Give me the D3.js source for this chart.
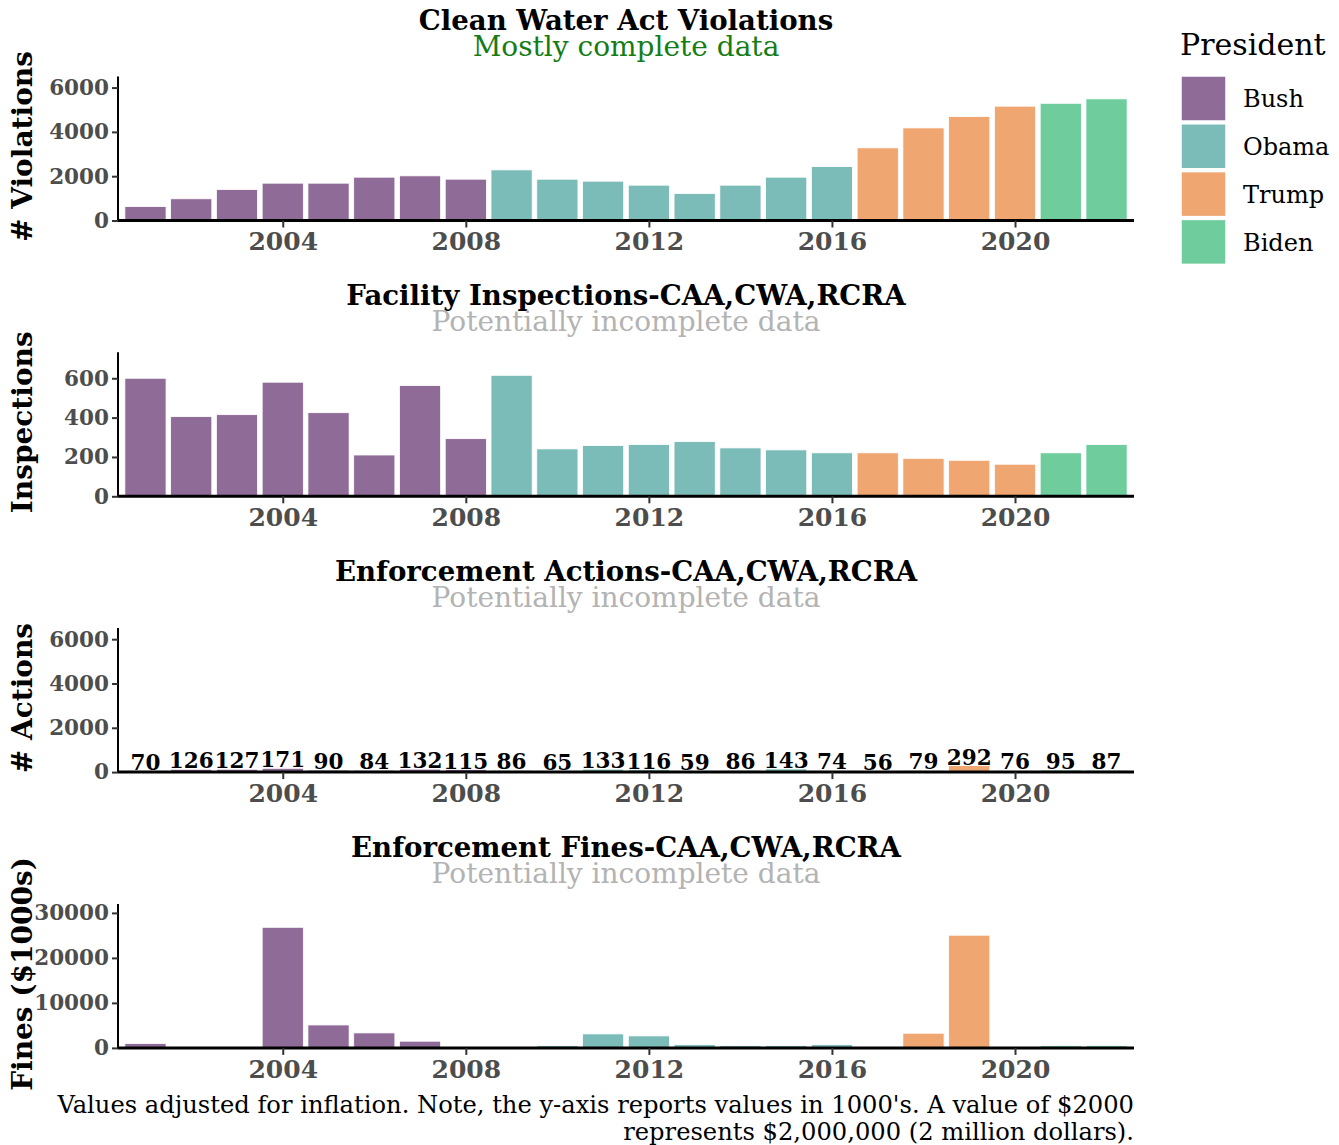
<!DOCTYPE html>
<html>
<head>
<meta charset="utf-8">
<script src="https://cdn.jsdelivr.net/npm/d3@7"></script>
<style>
    body { margin: 0; background: #fff; }
    text { font-family: "DejaVu Serif", serif; }
</style>
</head>
<body>
<svg id="grafico" width="1339" height="1145"></svg>
<script>

var anios = [2001, 2002, 2003, 2004, 2005, 2006, 2007, 2008, 2009, 2010, 2011,
    2012, 2013, 2014, 2015, 2016, 2017, 2018, 2019, 2020, 2021, 2022];
var presidentes = ["Bush", "Bush", "Bush", "Bush", "Bush", "Bush", "Bush", "Bush",
    "Obama", "Obama", "Obama", "Obama", "Obama", "Obama", "Obama", "Obama",
    "Trump", "Trump", "Trump", "Trump", "Biden", "Biden"];
var nombresPresidente = ["Bush", "Obama", "Trump", "Biden"];
var coloresPresidente = ["#8f6b98", "#7bbcb9", "#efa671", "#6fcd9d"];

var violaciones = [630, 980, 1400, 1685, 1685, 1955, 2015, 1865, 2285, 1865, 1775,
    1595, 1218, 1595, 1955, 2436, 3280, 4180, 4690, 5160, 5290, 5490];
var inspecciones = [600, 405, 415, 580, 425, 210, 563, 293, 615, 241, 258,
    263, 278, 246, 236, 221, 221, 193, 183, 163, 221, 263];
var acciones = [70, 126, 127, 171, 90, 84, 132, 115, 86, 65, 133,
    116, 59, 86, 143, 74, 56, 79, 292, 76, 95, 87];
var multas = [1000, 0, 0, 26800, 5100, 3330, 1490, 0, 0, 520, 3110,
    2670, 720, 520, 520, 720, 0, 3260, 25040, 0, 480, 480];

var ticksAnio = [2004, 2008, 2012, 2016, 2020];

var paneles = [
    { titulo: "Clean Water Act Violations", subtitulo: "Mostly complete data", colorSub: "#147d14",
      ejeY: "# Violations", datos: violaciones, maximo: 6500, ticks: [0, 2000, 4000, 6000], etiquetas: false },
    { titulo: "Facility Inspections-CAA,CWA,RCRA", subtitulo: "Potentially incomplete data", colorSub: "#b3b3b3",
      ejeY: "Inspections", datos: inspecciones, maximo: 732, ticks: [0, 200, 400, 600], etiquetas: false },
    { titulo: "Enforcement Actions-CAA,CWA,RCRA", subtitulo: "Potentially incomplete data", colorSub: "#b3b3b3",
      ejeY: "# Actions", datos: acciones, maximo: 6500, ticks: [0, 2000, 4000, 6000], etiquetas: true },
    { titulo: "Enforcement Fines-CAA,CWA,RCRA", subtitulo: "Potentially incomplete data", colorSub: "#b3b3b3",
      ejeY: "Fines ($1000s)", datos: multas, maximo: 32000, ticks: [0, 10000, 20000, 30000], etiquetas: false }
];

var svg = d3.select("#grafico");
var izq = 118, der = 1134;
var altoPanel = 144;

var x = d3.scaleLinear().domain([2000.4, 2022.6]).range([izq, der]);
var ancho = (x(2001) - x(2000)) * 0.9;
var color = d3.scaleOrdinal().domain(nombresPresidente).range(coloresPresidente);

for (var p = 0; p < paneles.length; p++) {
    dibujaPanel(paneles[p], 220.5 + p * 275.8);
}
dibujaLeyenda();
dibujaNota();

function dibujaPanel(panel, base) {
    var tope = base - altoPanel;
    var y = d3.scaleLinear().domain([0, panel.maximo]).range([base, tope]);
    var g = svg.append("g");

    var filas = anios.map(function (a, i) {
        return { anio: a, valor: panel.datos[i], presidente: presidentes[i] };
    });

    g.selectAll("rect.barra")
        .data(filas)
        .enter().append("rect")
        .attr("class", "barra")
        .attr("x", function (d) { return x(d.anio) - ancho / 2; })
        .attr("width", ancho)
        .attr("y", function (d) { return y(d.valor); })
        .attr("height", function (d) { return base - y(d.valor); })
        .attr("fill", function (d) { return color(d.presidente); })
        .attr("stroke", "#fff")
        .attr("stroke-width", 0.8);

    if (panel.etiquetas) {
        g.selectAll("text.valor")
            .data(filas)
            .enter().append("text")
            .attr("class", "valor")
            .attr("x", function (d) { return x(d.anio); })
            .attr("y", function (d) { return y(d.valor) - 1; })
            .attr("text-anchor", "middle")
            .attr("font-size", 21.5)
            .attr("font-weight", "bold")
            .attr("fill", "#000")
            .text(function (d) { return d.valor; });
    }

    // eje x
    var ejeX = g.append("g")
        .attr("transform", "translate(0," + base + ")")
        .call(d3.axisBottom(x).tickValues(ticksAnio).tickFormat(d3.format("d")).tickSize(7).tickPadding(5));
    ejeX.select(".domain").attr("stroke", "#000").attr("stroke-width", 3).attr("d", "M" + izq + ",0H" + der);
    ejeX.selectAll(".tick line").attr("stroke", "#333").attr("stroke-width", 2);
    ejeX.selectAll(".tick text")
        .attr("font-family", "DejaVu Serif")
        .attr("font-size", 25)
        .attr("font-weight", "bold")
        .attr("fill", "#4d4d4d");

    // eje y
    var ejeY = g.append("g")
        .attr("transform", "translate(" + izq + ",0)")
        .call(d3.axisLeft(y).tickValues(panel.ticks).tickFormat(d3.format("d")).tickSize(6).tickPadding(3));
    ejeY.select(".domain").attr("stroke", "#000").attr("stroke-width", 2).attr("d", "M0," + tope + "V" + base);
    ejeY.selectAll(".tick line").attr("stroke", "#333").attr("stroke-width", 2);
    ejeY.selectAll(".tick text")
        .attr("font-family", "DejaVu Serif")
        .attr("font-size", 21.5)
        .attr("font-weight", "bold")
        .attr("fill", "#4d4d4d");

    g.append("text")
        .attr("transform", "translate(32," + (tope + altoPanel / 2 - 2) + ") rotate(-90)")
        .attr("text-anchor", "middle")
        .attr("font-size", 28)
        .attr("font-weight", "bold")
        .attr("fill", "#000")
        .text(panel.ejeY);

    var centro = (izq + der) / 2;
    g.append("text")
        .attr("x", centro)
        .attr("y", tope - 47)
        .attr("text-anchor", "middle")
        .attr("font-size", 27.6)
        .attr("font-weight", "bold")
        .attr("fill", "#000")
        .text(panel.titulo);
    g.append("text")
        .attr("x", centro)
        .attr("y", tope - 21)
        .attr("text-anchor", "middle")
        .attr("font-size", 28)
        .attr("fill", panel.colorSub)
        .text(panel.subtitulo);
}

function dibujaLeyenda() {
    var ley = svg.append("g").attr("transform", "translate(1180,0)");
    ley.append("text")
        .attr("x", 0)
        .attr("y", 55)
        .attr("font-size", 30)
        .attr("fill", "#000")
        .text("President");

    var items = ley.selectAll("g.item")
        .data(nombresPresidente)
        .enter().append("g")
        .attr("class", "item")
        .attr("transform", function (d, i) { return "translate(0," + (76 + i * 47.8) + ")"; });
    items.append("rect")
        .attr("x", 1)
        .attr("y", 0)
        .attr("width", 45)
        .attr("height", 45)
        .attr("fill", function (d) { return color(d); })
        .attr("stroke", "#fff")
        .attr("stroke-width", 1.5);
    items.append("text")
        .attr("x", 63)
        .attr("y", 22.5)
        .attr("dy", "0.36em")
        .attr("font-size", 24)
        .attr("fill", "#000")
        .text(function (d) { return d; });
}

function dibujaNota() {
    var lineas = ["Values adjusted for inflation. Note, the y-axis reports values in 1000's. A value of $2000",
        "represents $2,000,000 (2 million dollars)."];
    svg.selectAll("text.nota")
        .data(lineas)
        .enter().append("text")
        .attr("class", "nota")
        .attr("x", der)
        .attr("y", function (d, i) { return 1113 + i * 27; })
        .attr("text-anchor", "end")
        .attr("font-size", 24.2)
        .attr("fill", "#000")
        .text(function (d) { return d; });
}

</script>
</body>
</html>
